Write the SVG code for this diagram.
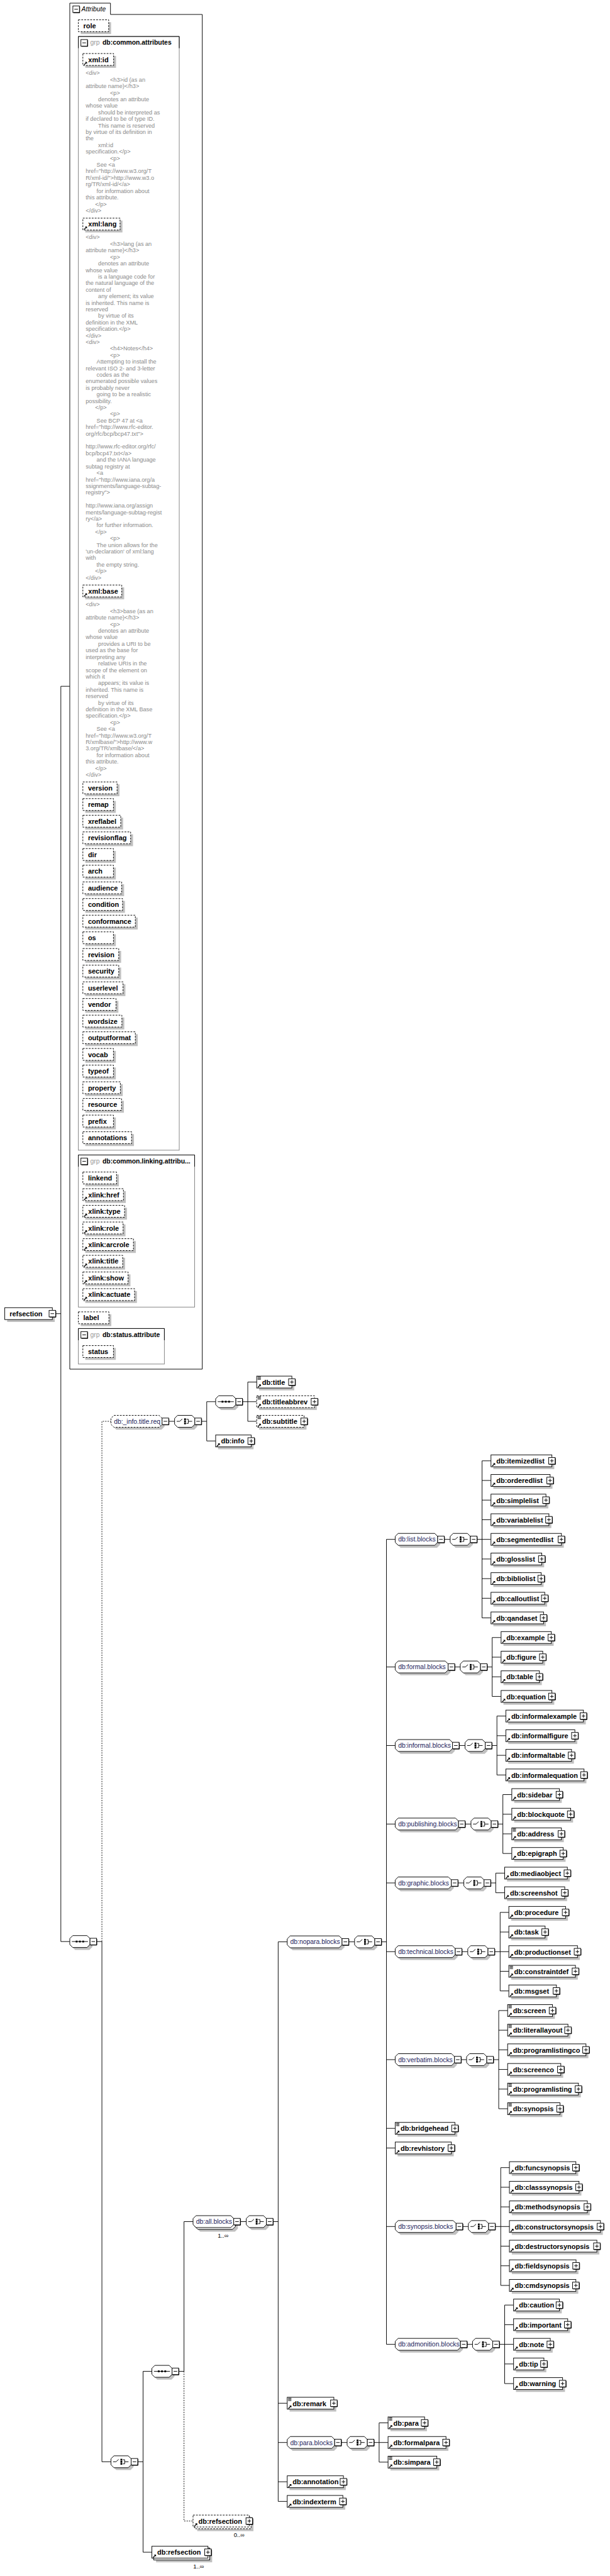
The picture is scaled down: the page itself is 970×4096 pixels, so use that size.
<svg xmlns="http://www.w3.org/2000/svg" width="970" height="4096" viewBox="0 0 970 4096">
<style>
.ln{fill:none;stroke:#000;stroke-width:1}
.dl{fill:none;stroke:#000;stroke-width:1;stroke-dasharray:2,2}
.sh{fill:#c0c0c0;stroke:none}
.el{fill:#fff;stroke:#000;stroke-width:1}
.ed{fill:#fff;stroke:#000;stroke-width:1;stroke-dasharray:3,2}
.t{font-family:"Liberation Sans",Arial,sans-serif;font-weight:bold;font-size:11.6px;fill:#000}
.g{font-family:"Liberation Sans",Arial,sans-serif;font-size:11px;fill:#1c1c5c}
.doc{font-family:"Liberation Sans",Arial,sans-serif;font-size:9.7px;fill:#8a8a8a}
.m{font-family:"Liberation Sans",Arial,sans-serif;font-size:10px;fill:#000}
.gt{font-family:"Liberation Sans",Arial,sans-serif;font-weight:bold;font-size:11px;fill:#000}
.gr{font-family:"Liberation Sans",Arial,sans-serif;font-size:11px;fill:#999}
.it{font-family:"Liberation Sans",Arial,sans-serif;font-style:italic;font-size:11px;fill:#000}
.gb{fill:#fff;stroke:#808080;stroke-width:1}
</style>
<defs>
<g id="mn"><rect x="0" y="0" width="11" height="11" fill="#fff" stroke="#000"/><path d="M11.5,1V11.5H1" stroke="#000" fill="none"/><path d="M2.5,5.5H8.5" stroke="#000"/></g>
<g id="pl"><rect x="0" y="0" width="11" height="11" fill="#fff" stroke="#000"/><path d="M11.5,1V11.5H1" stroke="#000" fill="none"/><path d="M2.5,5.5H8.5M5.5,2.5V8.5" stroke="#000"/></g>
<g id="ar"><path d="M2,9L5.5,5.5" stroke="#000" stroke-width="1.4"/><path d="M3.5,4H7V7.5Z" fill="#000"/></g>
<g id="mx"><path d="M1.5,-8.5H7M1.5,-6.5H7M1.5,-4.5H7" stroke="#000" fill="none"/></g>
<g id="co"><path fill="#c0c0c0" transform="translate(4,4)" d="M5,-10h24l5,5v10l-5,5h-24l-5,-5v-10z"/><path fill="#fff" stroke="#000" d="M5,-10h24l5,5v10l-5,5h-24l-5,-5v-10z"/><use href="#mn" x="34" y="-5.5"/></g>
<g id="ch"><use href="#co"/><path d="M3.5,0H8.5L13,-4M20,-3.5H23V3.5H20M23,0H29.5" stroke="#000" fill="none"/><rect x="16" y="-5" width="3" height="3" fill="#000"/><rect x="16" y="-1.5" width="3" height="3" fill="#000"/><rect x="16" y="2" width="3" height="3" fill="#000"/></g>
<g id="sq"><use href="#co"/><path d="M3.5,0H30.5" stroke="#000"/><rect x="10" y="-1.5" width="3" height="3" fill="#000"/><rect x="15.5" y="-1.5" width="3" height="3" fill="#000"/><rect x="21" y="-1.5" width="3" height="3" fill="#000"/></g>
</defs>
<rect x="0" y="0" width="970" height="4096" fill="#fff"/>
<g transform="scale(0.946)">

<g id="connectors">
<path class="ln" d="M93.5,2208H102.3M102.3,1153.5V3263.4M102.3,1153.5H117.3M102.3,3263.4H117.3"/>
<path class="ln" d="M162.3,3263.4H171.3M171.3,3263.4V4137.8H186.5"/>
<path class="dl" d="M171.3,3263.4V2389H186.5"/>
<path class="ln" d="M283.5,2389H293.5M338.5,2389H347.5M347.5,2356V2422M347.5,2356H362.5M347.5,2422H362.5"/>
<path class="ln" d="M407.5,2356H416.5M416.5,2323V2389M416.5,2323H431.5M416.5,2356H431.5M416.5,2389H431.5"/>
<path class="ln" d="M231.5,4137.8H240.5M240.5,3985.8V4289.8M240.5,3985.8H255.3M240.5,4289.8H255.3"/>
<path class="ln" d="M300.3,3985.8H309.3M309.3,3985.8V3734.15H324.5"/>
<path class="dl" d="M309.3,3985.8V4237.4H324.5"/>
<path class="ln" d="M403.9,3734.15H413.9M458.9,3734.15H467.6M467.6,3263.9V4204.4M467.6,3263.9H482.8M467.6,4039.4H482.8M467.6,4105.4H482.8M467.6,4171.4H482.8M467.6,4204.4H482.8"/>
<path class="ln" d="M586,3263.9H596M641,3263.9H649.6M649.6,2587.4V3940.4M649.6,2587.4H664.3M649.6,2801.9H664.3M649.6,2933.9H664.3M649.6,3065.9H664.3M649.6,3164.9H664.3M649.6,3280.4H664.3M649.6,3461.9H664.3M649.6,3577.4H664.3M649.6,3610.4H664.3M649.6,3742.4H664.3M649.6,3940.4H664.3"/>
<path class="ln" d="M573.5,4105.4H583.5M628.5,4105.4H637.3M637.3,4072.4V4138.4M637.3,4072.4H652.3M637.3,4105.4H652.3M637.3,4138.4H652.3"/>
<path class="ln" d="M746.7,2587.4H756.7M801.7,2587.4H810.3M810.3,2455.4V2719.4M810.3,2455.4H825.3M810.3,2488.4H825.3M810.3,2521.4H825.3M810.3,2554.4H825.3M810.3,2587.4H825.3M810.3,2620.4H825.3M810.3,2653.4H825.3M810.3,2686.4H825.3M810.3,2719.4H825.3"/>
<path class="ln" d="M764.3,2801.9H773.7M818.7,2801.9H827.3M827.3,2752.4V2851.4M827.3,2752.4H842.3M827.3,2785.4H842.3M827.3,2818.4H842.3M827.3,2851.4H842.3"/>
<path class="ln" d="M771.7,2933.9H781.7M826.7,2933.9H835.3M835.3,2884.4V2983.4M835.3,2884.4H850.3M835.3,2917.4H850.3M835.3,2950.4H850.3M835.3,2983.4H850.3"/>
<path class="ln" d="M781.7,3065.9H791.7M836.7,3065.9H845.3M845.3,3016.4V3115.4M845.3,3016.4H860.3M845.3,3049.4H860.3M845.3,3082.4H860.3M845.3,3115.4H860.3"/>
<path class="ln" d="M769.7,3164.9H779.7M824.7,3164.9H833.3M833.3,3148.4V3181.4M833.3,3148.4H848.3M833.3,3181.4H848.3"/>
<path class="ln" d="M776.3,3280.4H786.3M831.3,3280.4H840.7M840.7,3214.4V3346.4M840.7,3214.4H855.3M840.7,3247.4H855.3M840.7,3280.4H855.3M840.7,3313.4H855.3M840.7,3346.4H855.3"/>
<path class="ln" d="M775,3461.9H784.3M829.3,3461.9H838.3M838.3,3379.4V3544.4M838.3,3379.4H853.3M838.3,3412.4H853.3M838.3,3445.4H853.3M838.3,3478.4H853.3M838.3,3511.4H853.3M838.3,3544.4H853.3"/>
<path class="ln" d="M777.7,3742.4H787.3M832.3,3742.4H841.7M841.7,3643.4V3841.4M841.7,3643.4H856.3M841.7,3676.4H856.3M841.7,3709.4H856.3M841.7,3742.4H856.3M841.7,3775.4H856.3M841.7,3808.4H856.3M841.7,3841.4H856.3"/>
<path class="ln" d="M785,3940.4H794.3M839.3,3940.4H848.3M848.3,3874.4V4006.4M848.3,3874.4H863.3M848.3,3907.4H863.3M848.3,3940.4H863.3M848.3,3973.4H863.3M848.3,4006.4H863.3"/>
</g>

<g id="attributes">
<path d="M117.3,5.3H185.7V24.3H340V2301.3H117.3Z" fill="#fff" stroke="#000"/>
<use href="#mn" x="122.5" y="10"/>
<text class="it" x="137" y="19.5">Attribute</text>
<g id="a-role" transform="translate(131.7,33.3)"><rect class="sh" x="4" y="4" width="51" height="20"/><rect class="ed" width="51" height="20"/><text class="t" x="8.4" y="14.2">role</text></g>

<g id="grp-common-attributes">
<rect class="gb" x="131.7" y="61.3" width="169.6" height="1872"/>
<path class="ln" d="M131.7,81V61.3H301.3V81"/>
<use href="#mn" x="136" y="66.5"/>
<text class="gr" x="151.7" y="75.5">grp</text>
<text class="gt" x="172.3" y="75.5">db:common.attributes</text>
<g id="a-xmlid" transform="translate(139.3,90)"><rect class="sh" x="4" y="4" width="51.7" height="20"/><rect class="ed" width="51.7" height="20"/><use href="#ar" y="10"/><text class="t" x="9" y="14.2">xml:id</text></g>
<text class="doc"><tspan x="144" y="126.2">&lt;div&gt;</tspan><tspan x="185" dy="11">&lt;h3&gt;id (as an</tspan><tspan x="144" dy="11">attribute name)&lt;/h3&gt;</tspan><tspan x="185" dy="11">&lt;p&gt;</tspan><tspan x="165" dy="11">denotes an attribute</tspan><tspan x="144" dy="11">whose value</tspan><tspan x="165" dy="11">should be interpreted as</tspan><tspan x="144" dy="11">if declared to be of type ID.</tspan><tspan x="165" dy="11">This name is reserved</tspan><tspan x="144" dy="11">by virtue of its definition in</tspan><tspan x="144" dy="11">the</tspan><tspan x="165" dy="11">xml:id</tspan><tspan x="144" dy="11">specification.&lt;/p&gt;</tspan><tspan x="185" dy="11">&lt;p&gt;</tspan><tspan x="162.3" dy="11">See &lt;a</tspan><tspan x="144" dy="11">href="http://www.w3.org/T</tspan><tspan x="144" dy="11">R/xml-id/"&gt;http://www.w3.o</tspan><tspan x="144" dy="11">rg/TR/xml-id/&lt;/a&gt;</tspan><tspan x="162.3" dy="11">for information about</tspan><tspan x="144" dy="11">this attribute.</tspan><tspan x="160" dy="11">&lt;/p&gt;</tspan><tspan x="144" dy="11">&lt;/div&gt;</tspan></text>
<g id="a-xmllang" transform="translate(139.3,366.7)"><rect class="sh" x="4" y="4" width="62.5" height="20"/><rect class="ed" width="62.5" height="20"/><use href="#ar" y="10"/><text class="t" x="9" y="14.2">xml:lang</text></g>
<text class="doc"><tspan x="144" y="402.2">&lt;div&gt;</tspan><tspan x="185" dy="11">&lt;h3&gt;lang (as an</tspan><tspan x="144" dy="11">attribute name)&lt;/h3&gt;</tspan><tspan x="185" dy="11">&lt;p&gt;</tspan><tspan x="165" dy="11">denotes an attribute</tspan><tspan x="144" dy="11">whose value</tspan><tspan x="165" dy="11">is a language code for</tspan><tspan x="144" dy="11">the natural language of the</tspan><tspan x="144" dy="11">content of</tspan><tspan x="165" dy="11">any element; its value</tspan><tspan x="144" dy="11">is inherited.  This name is</tspan><tspan x="144" dy="11">reserved</tspan><tspan x="165" dy="11">by virtue of its</tspan><tspan x="144" dy="11">definition in the XML</tspan><tspan x="144" dy="11">specification.&lt;/p&gt;</tspan><tspan x="144" dy="11">&lt;/div&gt;</tspan><tspan x="144" dy="11">&lt;div&gt;</tspan><tspan x="185" dy="11">&lt;h4&gt;Notes&lt;/h4&gt;</tspan><tspan x="185" dy="11">&lt;p&gt;</tspan><tspan x="162.3" dy="11">Attempting to install the</tspan><tspan x="144" dy="11">relevant ISO 2- and 3-letter</tspan><tspan x="162.3" dy="11">codes as the</tspan><tspan x="144" dy="11">enumerated possible values</tspan><tspan x="144" dy="11">is probably never</tspan><tspan x="162.3" dy="11">going to be a realistic</tspan><tspan x="144" dy="11">possibility.</tspan><tspan x="160" dy="11">&lt;/p&gt;</tspan><tspan x="185" dy="11">&lt;p&gt;</tspan><tspan x="162.3" dy="11">See BCP 47 at &lt;a</tspan><tspan x="144" dy="11">href="http://www.rfc-editor.</tspan><tspan x="144" dy="11">org/rfc/bcp/bcp47.txt"&gt;</tspan><tspan x="144" dy="22">http://www.rfc-editor.org/rfc/</tspan><tspan x="144" dy="11">bcp/bcp47.txt&lt;/a&gt;</tspan><tspan x="162.3" dy="11">and the IANA language</tspan><tspan x="144" dy="11">subtag registry at</tspan><tspan x="162.3" dy="11">&lt;a</tspan><tspan x="144" dy="11">href="http://www.iana.org/a</tspan><tspan x="144" dy="11">ssignments/language-subtag-</tspan><tspan x="144" dy="11">registry"&gt;</tspan><tspan x="144" dy="22">http://www.iana.org/assign</tspan><tspan x="144" dy="11">ments/language-subtag-regist</tspan><tspan x="144" dy="11">ry&lt;/a&gt;</tspan><tspan x="162.3" dy="11">for further information.</tspan><tspan x="160" dy="11">&lt;/p&gt;</tspan><tspan x="185" dy="11">&lt;p&gt;</tspan><tspan x="162.3" dy="11">The union allows for the</tspan><tspan x="144" dy="11">'un-declaration' of xml:lang</tspan><tspan x="144" dy="11">with</tspan><tspan x="162.3" dy="11">the empty string.</tspan><tspan x="160" dy="11">&lt;/p&gt;</tspan><tspan x="144" dy="11">&lt;/div&gt;</tspan></text>
<g id="a-xmlbase" transform="translate(139.3,983.3)"><rect class="sh" x="4" y="4" width="65.4" height="20"/><rect class="ed" width="65.4" height="20"/><use href="#ar" y="10"/><text class="t" x="9" y="14.2">xml:base</text></g>
<text class="doc"><tspan x="144" y="1019.5">&lt;div&gt;</tspan><tspan x="185" dy="11">&lt;h3&gt;base (as an</tspan><tspan x="144" dy="11">attribute name)&lt;/h3&gt;</tspan><tspan x="185" dy="11">&lt;p&gt;</tspan><tspan x="165" dy="11">denotes an attribute</tspan><tspan x="144" dy="11">whose value</tspan><tspan x="165" dy="11">provides a URI to be</tspan><tspan x="144" dy="11">used as the base for</tspan><tspan x="144" dy="11">interpreting any</tspan><tspan x="165" dy="11">relative URIs in the</tspan><tspan x="144" dy="11">scope of the element on</tspan><tspan x="144" dy="11">which it</tspan><tspan x="165" dy="11">appears; its value is</tspan><tspan x="144" dy="11">inherited.  This name is</tspan><tspan x="144" dy="11">reserved</tspan><tspan x="165" dy="11">by virtue of its</tspan><tspan x="144" dy="11">definition in the XML Base</tspan><tspan x="144" dy="11">specification.&lt;/p&gt;</tspan><tspan x="185" dy="11">&lt;p&gt;</tspan><tspan x="162.3" dy="11">See &lt;a</tspan><tspan x="144" dy="11">href="http://www.w3.org/T</tspan><tspan x="144" dy="11">R/xmlbase/"&gt;http://www.w</tspan><tspan x="144" dy="11">3.org/TR/xmlbase/&lt;/a&gt;</tspan><tspan x="162.3" dy="11">for information about</tspan><tspan x="144" dy="11">this attribute.</tspan><tspan x="160" dy="11">&lt;/p&gt;</tspan><tspan x="144" dy="11">&lt;/div&gt;</tspan></text>
<g id="a-version" transform="translate(139.3,1314.3)"><rect class="sh" x="4" y="4" width="57.5" height="20"/><rect class="ed" width="57.5" height="20"/><text class="t" x="8.6" y="14.2">version</text></g>
<g id="a-remap" transform="translate(139.3,1342.3)"><rect class="sh" x="4" y="4" width="51.4" height="20"/><rect class="ed" width="51.4" height="20"/><text class="t" x="8.6" y="14.2">remap</text></g>
<g id="a-xreflabel" transform="translate(139.3,1370.3)"><rect class="sh" x="4" y="4" width="63.6" height="20"/><rect class="ed" width="63.6" height="20"/><text class="t" x="8.6" y="14.2">xreflabel</text></g>
<g id="a-revisionflag" transform="translate(139.3,1398.3)"><rect class="sh" x="4" y="4" width="80.3" height="20"/><rect class="ed" width="80.3" height="20"/><text class="t" x="8.6" y="14.2">revisionflag</text></g>
<g id="a-dir" transform="translate(139.3,1426.3)"><rect class="sh" x="4" y="4" width="51.4" height="20"/><rect class="ed" width="51.4" height="20"/><text class="t" x="8.6" y="14.2">dir</text></g>
<g id="a-arch" transform="translate(139.3,1454.3)"><rect class="sh" x="4" y="4" width="51.4" height="20"/><rect class="ed" width="51.4" height="20"/><text class="t" x="8.6" y="14.2">arch</text></g>
<g id="a-audience" transform="translate(139.3,1482.3)"><rect class="sh" x="4" y="4" width="65.3" height="20"/><rect class="ed" width="65.3" height="20"/><text class="t" x="8.6" y="14.2">audience</text></g>
<g id="a-condition" transform="translate(139.3,1510.3)"><rect class="sh" x="4" y="4" width="66.7" height="20"/><rect class="ed" width="66.7" height="20"/><text class="t" x="8.6" y="14.2">condition</text></g>
<g id="a-conformance" transform="translate(139.3,1538.3)"><rect class="sh" x="4" y="4" width="88.2" height="20"/><rect class="ed" width="88.2" height="20"/><text class="t" x="8.6" y="14.2">conformance</text></g>
<g id="a-os" transform="translate(139.3,1566.3)"><rect class="sh" x="4" y="4" width="51.4" height="20"/><rect class="ed" width="51.4" height="20"/><text class="t" x="8.6" y="14.2">os</text></g>
<g id="a-revision" transform="translate(139.3,1594.3)"><rect class="sh" x="4" y="4" width="60.3" height="20"/><rect class="ed" width="60.3" height="20"/><text class="t" x="8.6" y="14.2">revision</text></g>
<g id="a-security" transform="translate(139.3,1622.3)"><rect class="sh" x="4" y="4" width="60.3" height="20"/><rect class="ed" width="60.3" height="20"/><text class="t" x="8.6" y="14.2">security</text></g>
<g id="a-userlevel" transform="translate(139.3,1650.3)"><rect class="sh" x="4" y="4" width="67.5" height="20"/><rect class="ed" width="67.5" height="20"/><text class="t" x="8.6" y="14.2">userlevel</text></g>
<g id="a-vendor" transform="translate(139.3,1678.3)"><rect class="sh" x="4" y="4" width="55.7" height="20"/><rect class="ed" width="55.7" height="20"/><text class="t" x="8.6" y="14.2">vendor</text></g>
<g id="a-wordsize" transform="translate(139.3,1706.3)"><rect class="sh" x="4" y="4" width="65.6" height="20"/><rect class="ed" width="65.6" height="20"/><text class="t" x="8.6" y="14.2">wordsize</text></g>
<g id="a-outputformat" transform="translate(139.3,1734.3)"><rect class="sh" x="4" y="4" width="88.2" height="20"/><rect class="ed" width="88.2" height="20"/><text class="t" x="8.6" y="14.2">outputformat</text></g>
<g id="a-vocab" transform="translate(139.3,1762.3)"><rect class="sh" x="4" y="4" width="51.4" height="20"/><rect class="ed" width="51.4" height="20"/><text class="t" x="8.6" y="14.2">vocab</text></g>
<g id="a-typeof" transform="translate(139.3,1790.3)"><rect class="sh" x="4" y="4" width="51.4" height="20"/><rect class="ed" width="51.4" height="20"/><text class="t" x="8.6" y="14.2">typeof</text></g>
<g id="a-property" transform="translate(139.3,1818.3)"><rect class="sh" x="4" y="4" width="63" height="20"/><rect class="ed" width="63" height="20"/><text class="t" x="8.6" y="14.2">property</text></g>
<g id="a-resource" transform="translate(139.3,1846.3)"><rect class="sh" x="4" y="4" width="65" height="20"/><rect class="ed" width="65" height="20"/><text class="t" x="8.6" y="14.2">resource</text></g>
<g id="a-prefix" transform="translate(139.3,1874.3)"><rect class="sh" x="4" y="4" width="51.4" height="20"/><rect class="ed" width="51.4" height="20"/><text class="t" x="8.6" y="14.2">prefix</text></g>
<g id="a-annotations" transform="translate(139.3,1902.3)"><rect class="sh" x="4" y="4" width="81.9" height="20"/><rect class="ed" width="81.9" height="20"/><text class="t" x="8.6" y="14.2">annotations</text></g>
</g>

<g id="grp-common-linking">
<rect class="gb" x="131.7" y="1941.3" width="195.5" height="255.7"/>
<path class="ln" d="M131.7,1961V1941.3H327.2V1961"/>
<use href="#mn" x="136" y="1946.5"/>
<text class="gr" x="151.7" y="1955.5">grp</text>
<text class="gt" x="172.3" y="1955.5">db:common.linking.attribu...</text>
<g id="a-linkend" transform="translate(139.3,1970)"><rect class="sh" x="4" y="4" width="56.6" height="20"/><rect class="ed" width="56.6" height="20"/><text class="t" x="8.6" y="14.2">linkend</text></g>
<g id="a-xlinkhref" transform="translate(139.3,1998)"><rect class="sh" x="4" y="4" width="68.2" height="20"/><rect class="ed" width="68.2" height="20"/><use href="#ar" y="10"/><text class="t" x="9" y="14.2">xlink:href</text></g>
<g id="a-xlinktype" transform="translate(139.3,2026)"><rect class="sh" x="4" y="4" width="70.1" height="20"/><rect class="ed" width="70.1" height="20"/><use href="#ar" y="10"/><text class="t" x="9" y="14.2">xlink:type</text></g>
<g id="a-xlinkrole" transform="translate(139.3,2054)"><rect class="sh" x="4" y="4" width="67.6" height="20"/><rect class="ed" width="67.6" height="20"/><use href="#ar" y="10"/><text class="t" x="9" y="14.2">xlink:role</text></g>
<g id="a-xlinkarcrole" transform="translate(139.3,2082)"><rect class="sh" x="4" y="4" width="85" height="20"/><rect class="ed" width="85" height="20"/><use href="#ar" y="10"/><text class="t" x="9" y="14.2">xlink:arcrole</text></g>
<g id="a-xlinktitle" transform="translate(139.3,2110)"><rect class="sh" x="4" y="4" width="66.9" height="20"/><rect class="ed" width="66.9" height="20"/><use href="#ar" y="10"/><text class="t" x="9" y="14.2">xlink:title</text></g>
<g id="a-xlinkshow" transform="translate(139.3,2138)"><rect class="sh" x="4" y="4" width="76" height="20"/><rect class="ed" width="76" height="20"/><use href="#ar" y="10"/><text class="t" x="9" y="14.2">xlink:show</text></g>
<g id="a-xlinkactuate" transform="translate(139.3,2166)"><rect class="sh" x="4" y="4" width="86.9" height="20"/><rect class="ed" width="86.9" height="20"/><use href="#ar" y="10"/><text class="t" x="9" y="14.2">xlink:actuate</text></g>
</g>
<g id="a-label" transform="translate(131.7,2205)"><rect class="sh" x="4" y="4" width="51.4" height="20"/><rect class="ed" width="51.4" height="20"/><text class="t" x="8.4" y="14.2">label</text></g>
<g id="grp-status">
<rect class="gb" x="131.7" y="2233" width="144.6" height="59.7"/>
<path class="ln" d="M131.7,2252.7V2233H276.3V2252.7"/>
<use href="#mn" x="136" y="2238.2"/>
<text class="gr" x="151.7" y="2247.2">grp</text>
<text class="gt" x="172.3" y="2247.2">db:status.attribute</text>
<g id="a-status" transform="translate(139.3,2261.7)"><rect class="sh" x="4" y="4" width="51.4" height="20"/><rect class="ed" width="51.4" height="20"/><text class="t" x="8.6" y="14.2">status</text></g>
</g>
</g>

<g id="n-refsection-root" transform="translate(8,2208)"><rect class="sh" x="4" y="-6" width="80" height="20"/><rect class="el" x="0" y="-10" width="80" height="20"/><text class="t" x="8" y="4.5">refsection</text><use href="#mn" x="74.5" y="-5.5"/></g>

<use id="c-seq1" href="#sq" x="117.3" y="3263.4"/>

<g id="n-info-title-req" transform="translate(186.5,2389)"><path class="sh" transform="translate(4,4)" d="M5,-10h76l5,5v10l-5,5h-76l-5,-5v-10z"/><path class="ed" d="M5,-10h76l5,5v10l-5,5h-76l-5,-5v-10z"/><text class="g" x="5" y="4">db:_info.title.req</text><use href="#mn" x="86" y="-5.5"/></g>
<use id="c-choice0" href="#ch" x="293.5" y="2389"/>
<use id="c-seq3" href="#sq" x="362.5" y="2356"/>
<g id="n-title" transform="translate(431.5,2323)"><rect class="sh" x="4" y="-6" width="59.1" height="20"/><rect class="el" x="0" y="-10" width="59.1" height="20"/><use href="#mx"/><use href="#ar"/><text class="t" x="9" y="4.5">db:title</text><use href="#pl" x="53.6" y="-5.5"/></g>
<g id="n-titleabbrev" transform="translate(431.5,2356)"><rect class="sh" x="4" y="-6" width="97.1" height="20"/><rect class="ed" x="0" y="-10" width="97.1" height="20"/><use href="#mx"/><use href="#ar"/><text class="t" x="9" y="4.5">db:titleabbrev</text><use href="#pl" x="91.6" y="-5.5"/></g>
<g id="n-subtitle" transform="translate(431.5,2389)"><rect class="sh" x="4" y="-6" width="79.7" height="20"/><rect class="ed" x="0" y="-10" width="79.7" height="20"/><use href="#mx"/><use href="#ar"/><text class="t" x="9" y="4.5">db:subtitle</text><use href="#pl" x="74.2" y="-5.5"/></g>
<g id="n-info" transform="translate(362.5,2422)"><rect class="sh" x="4" y="-6" width="59.7" height="20"/><rect class="el" x="0" y="-10" width="59.7" height="20"/><use href="#ar"/><text class="t" x="9" y="4.5">db:info</text><use href="#pl" x="54.2" y="-5.5"/></g>

<use id="c-choice1" href="#ch" x="186.5" y="4137.8"/>
<use id="c-seq2" href="#sq" x="255.3" y="3985.8"/>

<g id="n-all-blocks" transform="translate(324.5,3734.15)"><path class="sh" transform="translate(7,7)" d="M5,-10h58.4l5,5v10l-5,5h-58.4l-5,-5v-10z"/><path class="el" transform="translate(3,3)" d="M5,-10h58.4l5,5v10l-5,5h-58.4l-5,-5v-10z"/><path class="el" d="M5,-10h58.4l5,5v10l-5,5h-58.4l-5,-5v-10z"/><text class="g" x="5" y="4">db:all.blocks</text><use href="#mn" x="68.4" y="-5.5"/><text class="m" x="41.5" y="27">1..∞</text></g>
<use id="c-choice2" href="#ch" x="413.9" y="3734.15"/>

<g id="n-refsection-opt" transform="translate(324.5,4237.4)"><rect class="sh" x="7" y="-3" width="94.5" height="20"/><rect class="ed" x="3" y="-7" width="94.5" height="20"/><rect class="ed" x="0" y="-10" width="94.5" height="20"/><use href="#ar"/><text class="t" x="9" y="4.5">db:refsection</text><use href="#pl" x="89" y="-5.5"/><text class="m" x="68.5" y="27">0..∞</text></g>
<g id="n-refsection" transform="translate(255.3,4289.8)"><rect class="sh" x="7" y="-3" width="94.3" height="20"/><rect class="el" x="3" y="-7" width="94.3" height="20"/><rect class="el" x="0" y="-10" width="94.3" height="20"/><use href="#ar"/><text class="t" x="9" y="4.5">db:refsection</text><use href="#pl" x="88.8" y="-5.5"/><text class="m" x="69.5" y="27">1..∞</text></g>

<g id="n-nopara-blocks" transform="translate(482.8,3263.9)"><path class="sh" transform="translate(4,4)" d="M5,-10h82.2l5,5v10l-5,5h-82.2l-5,-5v-10z"/><path class="el" d="M5,-10h82.2l5,5v10l-5,5h-82.2l-5,-5v-10z"/><text class="g" x="5" y="4">db:nopara.blocks</text><use href="#mn" x="92.2" y="-5.5"/></g>
<use id="c-choice3" href="#ch" x="596" y="3263.9"/>

<g id="n-remark" transform="translate(482.8,4039.4)"><rect class="sh" x="4" y="-6" width="78.4" height="20"/><rect class="el" x="0" y="-10" width="78.4" height="20"/><use href="#mx"/><use href="#ar"/><text class="t" x="9" y="4.5">db:remark</text><use href="#pl" x="72.9" y="-5.5"/></g>
<g id="n-para-blocks" transform="translate(482.8,4105.4)"><path class="sh" transform="translate(4,4)" d="M5,-10h69.7l5,5v10l-5,5h-69.7l-5,-5v-10z"/><path class="el" d="M5,-10h69.7l5,5v10l-5,5h-69.7l-5,-5v-10z"/><text class="g" x="5" y="4">db:para.blocks</text><use href="#mn" x="79.7" y="-5.5"/></g>
<use id="c-choice4" href="#ch" x="583.5" y="4105.4"/>
<g id="n-para" transform="translate(652.3,4072.4)"><rect class="sh" x="4" y="-6" width="61.4" height="20"/><rect class="el" x="0" y="-10" width="61.4" height="20"/><use href="#mx"/><use href="#ar"/><text class="t" x="9" y="4.5">db:para</text><use href="#pl" x="55.9" y="-5.5"/></g>
<g id="n-formalpara" transform="translate(652.3,4105.4)"><rect class="sh" x="4" y="-6" width="97.4" height="20"/><rect class="el" x="0" y="-10" width="97.4" height="20"/><use href="#ar"/><text class="t" x="9" y="4.5">db:formalpara</text><use href="#pl" x="91.9" y="-5.5"/></g>
<g id="n-simpara" transform="translate(652.3,4138.4)"><rect class="sh" x="4" y="-6" width="82" height="20"/><rect class="el" x="0" y="-10" width="82" height="20"/><use href="#mx"/><use href="#ar"/><text class="t" x="9" y="4.5">db:simpara</text><use href="#pl" x="76.5" y="-5.5"/></g>
<g id="n-annotation" transform="translate(482.8,4171.4)"><rect class="sh" x="4" y="-6" width="94.5" height="20"/><rect class="el" x="0" y="-10" width="94.5" height="20"/><use href="#ar"/><text class="t" x="9" y="4.5">db:annotation</text><use href="#pl" x="89" y="-5.5"/></g>
<g id="n-indexterm" transform="translate(482.8,4204.4)"><rect class="sh" x="4" y="-6" width="93.5" height="20"/><rect class="el" x="0" y="-10" width="93.5" height="20"/><use href="#ar"/><text class="t" x="9" y="4.5">db:indexterm</text><use href="#pl" x="88" y="-5.5"/></g>

<g id="n-list-blocks" transform="translate(664.3,2587.4)"><path class="sh" transform="translate(4,4)" d="M5,-10h61.4l5,5v10l-5,5h-61.4l-5,-5v-10z"/><path class="el" d="M5,-10h61.4l5,5v10l-5,5h-61.4l-5,-5v-10z"/><text class="g" x="5" y="4">db:list.blocks</text><use href="#mn" x="71.4" y="-5.5"/></g>
<use id="c-list" href="#ch" x="756.7" y="2587.4"/>
<g id="n-formal-blocks" transform="translate(664.3,2801.9)"><path class="sh" transform="translate(4,4)" d="M5,-10h79l5,5v10l-5,5h-79l-5,-5v-10z"/><path class="el" d="M5,-10h79l5,5v10l-5,5h-79l-5,-5v-10z"/><text class="g" x="5" y="4">db:formal.blocks</text><use href="#mn" x="89" y="-5.5"/></g>
<use id="c-formal" href="#ch" x="773.7" y="2801.9"/>
<g id="n-informal-blocks" transform="translate(664.3,2933.9)"><path class="sh" transform="translate(4,4)" d="M5,-10h86.4l5,5v10l-5,5h-86.4l-5,-5v-10z"/><path class="el" d="M5,-10h86.4l5,5v10l-5,5h-86.4l-5,-5v-10z"/><text class="g" x="5" y="4">db:informal.blocks</text><use href="#mn" x="96.4" y="-5.5"/></g>
<use id="c-informal" href="#ch" x="781.7" y="2933.9"/>
<g id="n-publishing-blocks" transform="translate(664.3,3065.9)"><path class="sh" transform="translate(4,4)" d="M5,-10h96.4l5,5v10l-5,5h-96.4l-5,-5v-10z"/><path class="el" d="M5,-10h96.4l5,5v10l-5,5h-96.4l-5,-5v-10z"/><text class="g" x="5" y="4">db:publishing.blocks</text><use href="#mn" x="106.4" y="-5.5"/></g>
<use id="c-publishing" href="#ch" x="791.7" y="3065.9"/>
<g id="n-graphic-blocks" transform="translate(664.3,3164.9)"><path class="sh" transform="translate(4,4)" d="M5,-10h84.4l5,5v10l-5,5h-84.4l-5,-5v-10z"/><path class="el" d="M5,-10h84.4l5,5v10l-5,5h-84.4l-5,-5v-10z"/><text class="g" x="5" y="4">db:graphic.blocks</text><use href="#mn" x="94.4" y="-5.5"/></g>
<use id="c-graphic" href="#ch" x="779.7" y="3164.9"/>
<g id="n-technical-blocks" transform="translate(664.3,3280.4)"><path class="sh" transform="translate(4,4)" d="M5,-10h91l5,5v10l-5,5h-91l-5,-5v-10z"/><path class="el" d="M5,-10h91l5,5v10l-5,5h-91l-5,-5v-10z"/><text class="g" x="5" y="4">db:technical.blocks</text><use href="#mn" x="101" y="-5.5"/></g>
<use id="c-technical" href="#ch" x="786.3" y="3280.4"/>
<g id="n-verbatim-blocks" transform="translate(664.3,3461.9)"><path class="sh" transform="translate(4,4)" d="M5,-10h89.7l5,5v10l-5,5h-89.7l-5,-5v-10z"/><path class="el" d="M5,-10h89.7l5,5v10l-5,5h-89.7l-5,-5v-10z"/><text class="g" x="5" y="4">db:verbatim.blocks</text><use href="#mn" x="99.7" y="-5.5"/></g>
<use id="c-verbatim" href="#ch" x="784.3" y="3461.9"/>
<g id="n-bridgehead" transform="translate(664.3,3577.4)"><rect class="sh" x="4" y="-6" width="100.4" height="20"/><rect class="el" x="0" y="-10" width="100.4" height="20"/><use href="#mx"/><use href="#ar"/><text class="t" x="9" y="4.5">db:bridgehead</text><use href="#pl" x="94.9" y="-5.5"/></g>
<g id="n-revhistory" transform="translate(664.3,3610.4)"><rect class="sh" x="4" y="-6" width="94.4" height="20"/><rect class="el" x="0" y="-10" width="94.4" height="20"/><use href="#ar"/><text class="t" x="9" y="4.5">db:revhistory</text><use href="#pl" x="88.9" y="-5.5"/></g>
<g id="n-synopsis-blocks" transform="translate(664.3,3742.4)"><path class="sh" transform="translate(4,4)" d="M5,-10h92.4l5,5v10l-5,5h-92.4l-5,-5v-10z"/><path class="el" d="M5,-10h92.4l5,5v10l-5,5h-92.4l-5,-5v-10z"/><text class="g" x="5" y="4">db:synopsis.blocks</text><use href="#mn" x="102.4" y="-5.5"/></g>
<use id="c-synopsis" href="#ch" x="787.3" y="3742.4"/>
<g id="n-admonition-blocks" transform="translate(664.3,3940.4)"><path class="sh" transform="translate(4,4)" d="M5,-10h99.7l5,5v10l-5,5h-99.7l-5,-5v-10z"/><path class="el" d="M5,-10h99.7l5,5v10l-5,5h-99.7l-5,-5v-10z"/><text class="g" x="5" y="4">db:admonition.blocks</text><use href="#mn" x="109.7" y="-5.5"/></g>
<use id="c-admonition" href="#ch" x="794.3" y="3940.4"/>

<g id="n-itemizedlist" transform="translate(825.3,2455.4)"><rect class="sh" x="4" y="-6" width="102.4" height="20"/><rect class="el" x="0" y="-10" width="102.4" height="20"/><use href="#ar"/><text class="t" x="9" y="4.5">db:itemizedlist</text><use href="#pl" x="96.9" y="-5.5"/></g>
<g id="n-orderedlist" transform="translate(825.3,2488.4)"><rect class="sh" x="4" y="-6" width="99.4" height="20"/><rect class="el" x="0" y="-10" width="99.4" height="20"/><use href="#ar"/><text class="t" x="9" y="4.5">db:orderedlist</text><use href="#pl" x="93.9" y="-5.5"/></g>
<g id="n-simplelist" transform="translate(825.3,2521.4)"><rect class="sh" x="4" y="-6" width="92.4" height="20"/><rect class="el" x="0" y="-10" width="92.4" height="20"/><use href="#ar"/><text class="t" x="9" y="4.5">db:simplelist</text><use href="#pl" x="86.9" y="-5.5"/></g>
<g id="n-variablelist" transform="translate(825.3,2554.4)"><rect class="sh" x="4" y="-6" width="97.4" height="20"/><rect class="el" x="0" y="-10" width="97.4" height="20"/><use href="#ar"/><text class="t" x="9" y="4.5">db:variablelist</text><use href="#pl" x="91.9" y="-5.5"/></g>
<g id="n-segmentedlist" transform="translate(825.3,2587.4)"><rect class="sh" x="4" y="-6" width="118.4" height="20"/><rect class="el" x="0" y="-10" width="118.4" height="20"/><use href="#ar"/><text class="t" x="9" y="4.5">db:segmentedlist</text><use href="#pl" x="112.9" y="-5.5"/></g>
<g id="n-glosslist" transform="translate(825.3,2620.4)"><rect class="sh" x="4" y="-6" width="85.4" height="20"/><rect class="el" x="0" y="-10" width="85.4" height="20"/><use href="#ar"/><text class="t" x="9" y="4.5">db:glosslist</text><use href="#pl" x="79.9" y="-5.5"/></g>
<g id="n-bibliolist" transform="translate(825.3,2653.4)"><rect class="sh" x="4" y="-6" width="84.4" height="20"/><rect class="el" x="0" y="-10" width="84.4" height="20"/><use href="#ar"/><text class="t" x="9" y="4.5">db:bibliolist</text><use href="#pl" x="78.9" y="-5.5"/></g>
<g id="n-calloutlist" transform="translate(825.3,2686.4)"><rect class="sh" x="4" y="-6" width="90.4" height="20"/><rect class="el" x="0" y="-10" width="90.4" height="20"/><use href="#ar"/><text class="t" x="9" y="4.5">db:calloutlist</text><use href="#pl" x="84.9" y="-5.5"/></g>
<g id="n-qandaset" transform="translate(825.3,2719.4)"><rect class="sh" x="4" y="-6" width="88.4" height="20"/><rect class="el" x="0" y="-10" width="88.4" height="20"/><use href="#ar"/><text class="t" x="9" y="4.5">db:qandaset</text><use href="#pl" x="82.9" y="-5.5"/></g>

<g id="n-example" transform="translate(842.3,2752.4)"><rect class="sh" x="4" y="-6" width="84.4" height="20"/><rect class="el" x="0" y="-10" width="84.4" height="20"/><use href="#ar"/><text class="t" x="9" y="4.5">db:example</text><use href="#pl" x="78.9" y="-5.5"/></g>
<g id="n-figure" transform="translate(842.3,2785.4)"><rect class="sh" x="4" y="-6" width="70" height="20"/><rect class="el" x="0" y="-10" width="70" height="20"/><use href="#ar"/><text class="t" x="9" y="4.5">db:figure</text><use href="#pl" x="64.5" y="-5.5"/></g>
<g id="n-table" transform="translate(842.3,2818.4)"><rect class="sh" x="4" y="-6" width="64.4" height="20"/><rect class="el" x="0" y="-10" width="64.4" height="20"/><use href="#ar"/><text class="t" x="9" y="4.5">db:table</text><use href="#pl" x="58.9" y="-5.5"/></g>
<g id="n-equation" transform="translate(842.3,2851.4)"><rect class="sh" x="4" y="-6" width="85.4" height="20"/><rect class="el" x="0" y="-10" width="85.4" height="20"/><use href="#ar"/><text class="t" x="9" y="4.5">db:equation</text><use href="#pl" x="79.9" y="-5.5"/></g>

<g id="n-informalexample" transform="translate(850.3,2884.4)"><rect class="sh" x="4" y="-6" width="130.4" height="20"/><rect class="el" x="0" y="-10" width="130.4" height="20"/><use href="#ar"/><text class="t" x="9" y="4.5">db:informalexample</text><use href="#pl" x="124.9" y="-5.5"/></g>
<g id="n-informalfigure" transform="translate(850.3,2917.4)"><rect class="sh" x="4" y="-6" width="116" height="20"/><rect class="el" x="0" y="-10" width="116" height="20"/><use href="#ar"/><text class="t" x="9" y="4.5">db:informalfigure</text><use href="#pl" x="110.5" y="-5.5"/></g>
<g id="n-informaltable" transform="translate(850.3,2950.4)"><rect class="sh" x="4" y="-6" width="110.4" height="20"/><rect class="el" x="0" y="-10" width="110.4" height="20"/><use href="#ar"/><text class="t" x="9" y="4.5">db:informaltable</text><use href="#pl" x="104.9" y="-5.5"/></g>
<g id="n-informalequation" transform="translate(850.3,2983.4)"><rect class="sh" x="4" y="-6" width="131.4" height="20"/><rect class="el" x="0" y="-10" width="131.4" height="20"/><use href="#ar"/><text class="t" x="9" y="4.5">db:informalequation</text><use href="#pl" x="125.9" y="-5.5"/></g>

<g id="n-sidebar" transform="translate(860.3,3016.4)"><rect class="sh" x="4" y="-6" width="80" height="20"/><rect class="el" x="0" y="-10" width="80" height="20"/><use href="#ar"/><text class="t" x="9" y="4.5">db:sidebar</text><use href="#pl" x="74.5" y="-5.5"/></g>
<g id="n-blockquote" transform="translate(860.3,3049.4)"><rect class="sh" x="4" y="-6" width="99" height="20"/><rect class="el" x="0" y="-10" width="99" height="20"/><use href="#ar"/><text class="t" x="9" y="4.5">db:blockquote</text><use href="#pl" x="93.5" y="-5.5"/></g>
<g id="n-address" transform="translate(860.3,3082.4)"><rect class="sh" x="4" y="-6" width="83.4" height="20"/><rect class="el" x="0" y="-10" width="83.4" height="20"/><use href="#mx"/><use href="#ar"/><text class="t" x="9" y="4.5">db:address</text><use href="#pl" x="77.9" y="-5.5"/></g>
<g id="n-epigraph" transform="translate(860.3,3115.4)"><rect class="sh" x="4" y="-6" width="86.4" height="20"/><rect class="el" x="0" y="-10" width="86.4" height="20"/><use href="#ar"/><text class="t" x="9" y="4.5">db:epigraph</text><use href="#pl" x="80.9" y="-5.5"/></g>

<g id="n-mediaobject" transform="translate(848.3,3148.4)"><rect class="sh" x="4" y="-6" width="105.4" height="20"/><rect class="el" x="0" y="-10" width="105.4" height="20"/><use href="#ar"/><text class="t" x="9" y="4.5">db:mediaobject</text><use href="#pl" x="99.9" y="-5.5"/></g>
<g id="n-screenshot" transform="translate(848.3,3181.4)"><rect class="sh" x="4" y="-6" width="101" height="20"/><rect class="el" x="0" y="-10" width="101" height="20"/><use href="#ar"/><text class="t" x="9" y="4.5">db:screenshot</text><use href="#pl" x="95.5" y="-5.5"/></g>

<g id="n-procedure" transform="translate(855.3,3214.4)"><rect class="sh" x="4" y="-6" width="95.4" height="20"/><rect class="el" x="0" y="-10" width="95.4" height="20"/><use href="#ar"/><text class="t" x="9" y="4.5">db:procedure</text><use href="#pl" x="89.9" y="-5.5"/></g>
<g id="n-task" transform="translate(855.3,3247.4)"><rect class="sh" x="4" y="-6" width="61" height="20"/><rect class="el" x="0" y="-10" width="61" height="20"/><use href="#ar"/><text class="t" x="9" y="4.5">db:task</text><use href="#pl" x="55.5" y="-5.5"/></g>
<g id="n-productionset" transform="translate(855.3,3280.4)"><rect class="sh" x="4" y="-6" width="115.4" height="20"/><rect class="el" x="0" y="-10" width="115.4" height="20"/><use href="#ar"/><text class="t" x="9" y="4.5">db:productionset</text><use href="#pl" x="109.9" y="-5.5"/></g>
<g id="n-constraintdef" transform="translate(855.3,3313.4)"><rect class="sh" x="4" y="-6" width="112" height="20"/><rect class="el" x="0" y="-10" width="112" height="20"/><use href="#mx"/><use href="#ar"/><text class="t" x="9" y="4.5">db:constraintdef</text><use href="#pl" x="106.5" y="-5.5"/></g>
<g id="n-msgset" transform="translate(855.3,3346.4)"><rect class="sh" x="4" y="-6" width="80" height="20"/><rect class="el" x="0" y="-10" width="80" height="20"/><use href="#ar"/><text class="t" x="9" y="4.5">db:msgset</text><use href="#pl" x="74.5" y="-5.5"/></g>

<g id="n-screen" transform="translate(853.3,3379.4)"><rect class="sh" x="4" y="-6" width="75.4" height="20"/><rect class="el" x="0" y="-10" width="75.4" height="20"/><use href="#mx"/><use href="#ar"/><text class="t" x="9" y="4.5">db:screen</text><use href="#pl" x="69.9" y="-5.5"/></g>
<g id="n-literallayout" transform="translate(853.3,3412.4)"><rect class="sh" x="4" y="-6" width="101.4" height="20"/><rect class="el" x="0" y="-10" width="101.4" height="20"/><use href="#mx"/><use href="#ar"/><text class="t" x="9" y="4.5">db:literallayout</text><use href="#pl" x="95.9" y="-5.5"/></g>
<g id="n-programlistingco" transform="translate(853.3,3445.4)"><rect class="sh" x="4" y="-6" width="131.7" height="20"/><rect class="el" x="0" y="-10" width="131.7" height="20"/><use href="#ar"/><text class="t" x="9" y="4.5">db:programlistingco</text><use href="#pl" x="126.2" y="-5.5"/></g>
<g id="n-screenco" transform="translate(853.3,3478.4)"><rect class="sh" x="4" y="-6" width="89.4" height="20"/><rect class="el" x="0" y="-10" width="89.4" height="20"/><use href="#ar"/><text class="t" x="9" y="4.5">db:screenco</text><use href="#pl" x="83.9" y="-5.5"/></g>
<g id="n-programlisting" transform="translate(853.3,3511.4)"><rect class="sh" x="4" y="-6" width="119" height="20"/><rect class="el" x="0" y="-10" width="119" height="20"/><use href="#mx"/><use href="#ar"/><text class="t" x="9" y="4.5">db:programlisting</text><use href="#pl" x="113.5" y="-5.5"/></g>
<g id="n-synopsis" transform="translate(853.3,3544.4)"><rect class="sh" x="4" y="-6" width="88" height="20"/><rect class="el" x="0" y="-10" width="88" height="20"/><use href="#mx"/><use href="#ar"/><text class="t" x="9" y="4.5">db:synopsis</text><use href="#pl" x="82.5" y="-5.5"/></g>

<g id="n-funcsynopsis" transform="translate(856.3,3643.4)"><rect class="sh" x="4" y="-6" width="111.7" height="20"/><rect class="el" x="0" y="-10" width="111.7" height="20"/><use href="#ar"/><text class="t" x="9" y="4.5">db:funcsynopsis</text><use href="#pl" x="106.2" y="-5.5"/></g>
<g id="n-classsynopsis" transform="translate(856.3,3676.4)"><rect class="sh" x="4" y="-6" width="117" height="20"/><rect class="el" x="0" y="-10" width="117" height="20"/><use href="#ar"/><text class="t" x="9" y="4.5">db:classsynopsis</text><use href="#pl" x="111.5" y="-5.5"/></g>
<g id="n-methodsynopsis" transform="translate(856.3,3709.4)"><rect class="sh" x="4" y="-6" width="131" height="20"/><rect class="el" x="0" y="-10" width="131" height="20"/><use href="#ar"/><text class="t" x="9" y="4.5">db:methodsynopsis</text><use href="#pl" x="125.5" y="-5.5"/></g>
<g id="n-constructorsynopsis" transform="translate(856.3,3742.4)"><rect class="sh" x="4" y="-6" width="153" height="20"/><rect class="el" x="0" y="-10" width="153" height="20"/><use href="#ar"/><text class="t" x="9" y="4.5">db:constructorsynopsis</text><use href="#pl" x="147.5" y="-5.5"/></g>
<g id="n-destructorsynopsis" transform="translate(856.3,3775.4)"><rect class="sh" x="4" y="-6" width="147" height="20"/><rect class="el" x="0" y="-10" width="147" height="20"/><use href="#ar"/><text class="t" x="9" y="4.5">db:destructorsynopsis</text><use href="#pl" x="141.5" y="-5.5"/></g>
<g id="n-fieldsynopsis" transform="translate(856.3,3808.4)"><rect class="sh" x="4" y="-6" width="112" height="20"/><rect class="el" x="0" y="-10" width="112" height="20"/><use href="#ar"/><text class="t" x="9" y="4.5">db:fieldsynopsis</text><use href="#pl" x="106.5" y="-5.5"/></g>
<g id="n-cmdsynopsis" transform="translate(856.3,3841.4)"><rect class="sh" x="4" y="-6" width="111.7" height="20"/><rect class="el" x="0" y="-10" width="111.7" height="20"/><use href="#ar"/><text class="t" x="9" y="4.5">db:cmdsynopsis</text><use href="#pl" x="106.2" y="-5.5"/></g>

<g id="n-caution" transform="translate(863.3,3874.4)"><rect class="sh" x="4" y="-6" width="77" height="20"/><rect class="el" x="0" y="-10" width="77" height="20"/><use href="#ar"/><text class="t" x="9" y="4.5">db:caution</text><use href="#pl" x="71.5" y="-5.5"/></g>
<g id="n-important" transform="translate(863.3,3907.4)"><rect class="sh" x="4" y="-6" width="91" height="20"/><rect class="el" x="0" y="-10" width="91" height="20"/><use href="#ar"/><text class="t" x="9" y="4.5">db:important</text><use href="#pl" x="85.5" y="-5.5"/></g>
<g id="n-note" transform="translate(863.3,3940.4)"><rect class="sh" x="4" y="-6" width="61.7" height="20"/><rect class="el" x="0" y="-10" width="61.7" height="20"/><use href="#ar"/><text class="t" x="9" y="4.5">db:note</text><use href="#pl" x="56.2" y="-5.5"/></g>
<g id="n-tip" transform="translate(863.3,3973.4)"><rect class="sh" x="4" y="-6" width="51" height="20"/><rect class="el" x="0" y="-10" width="51" height="20"/><use href="#ar"/><text class="t" x="9" y="4.5">db:tip</text><use href="#pl" x="45.5" y="-5.5"/></g>
<g id="n-warning" transform="translate(863.3,4006.4)"><rect class="sh" x="4" y="-6" width="82.4" height="20"/><rect class="el" x="0" y="-10" width="82.4" height="20"/><use href="#ar"/><text class="t" x="9" y="4.5">db:warning</text><use href="#pl" x="76.9" y="-5.5"/></g>
</g>
</svg>
